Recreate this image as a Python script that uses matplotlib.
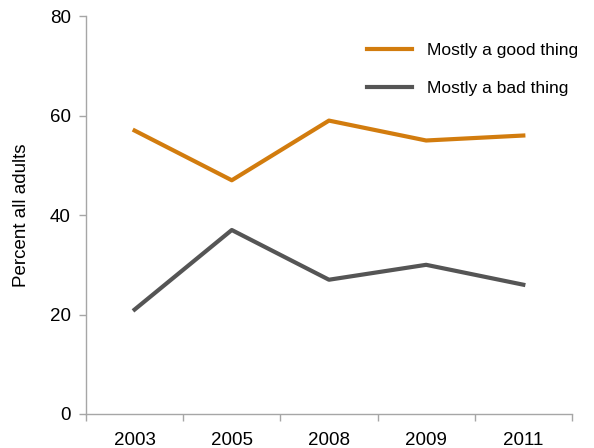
import matplotlib.pyplot as plt
import numpy as np

plt.rcParams['font.family'] = ['Liberation Sans', 'DejaVu Sans']

years = ["2003", "2005", "2008", "2009", "2011"]
good = [57, 47, 59, 55, 56]
bad = [21, 37, 27, 30, 26]

orange = "#D27C0E"
gray = "#555555"
axis_col = "#A6A6A6"
fs = 13.5

fig = plt.figure(figsize=(5.94, 4.48), dpi=100)
ax = fig.add_axes([0.1448, 0.0759, 0.818, 0.888])

x = np.arange(len(years))
ax.plot(x, good, color=orange, lw=3, label="Mostly a good thing")
ax.plot(x, bad, color=gray, lw=3, label="Mostly a bad thing")

ax.set_xlim(-0.5, len(years) - 0.5)
ax.set_ylim(0, 80)
ax.set_yticks([0, 20, 40, 60, 80])
ax.set_xticks(x)
ax.set_xticklabels(years)
ax.set_xticks(np.arange(len(years) + 1) - 0.5, minor=True)
ax.tick_params(axis='x', which='major', length=0, labelsize=fs, pad=13)
ax.tick_params(axis='x', which='minor', length=5, color=axis_col, width=1)
ax.tick_params(axis='y', length=5, color=axis_col, width=1, labelsize=fs, pad=6)

for s in ['top', 'right']:
    ax.spines[s].set_visible(False)
for s in ['left', 'bottom']:
    ax.spines[s].set_color(axis_col)
    ax.spines[s].set_linewidth(1)

ax.set_ylabel("Percent all adults", fontsize=fs, labelpad=14)

ax.legend(loc='upper right', bbox_to_anchor=(1.045, 0.972), frameon=False,
          fontsize=12.5, handlelength=2.6, handletextpad=0.85, labelspacing=1.3)

plt.savefig("out.png", dpi=100)
